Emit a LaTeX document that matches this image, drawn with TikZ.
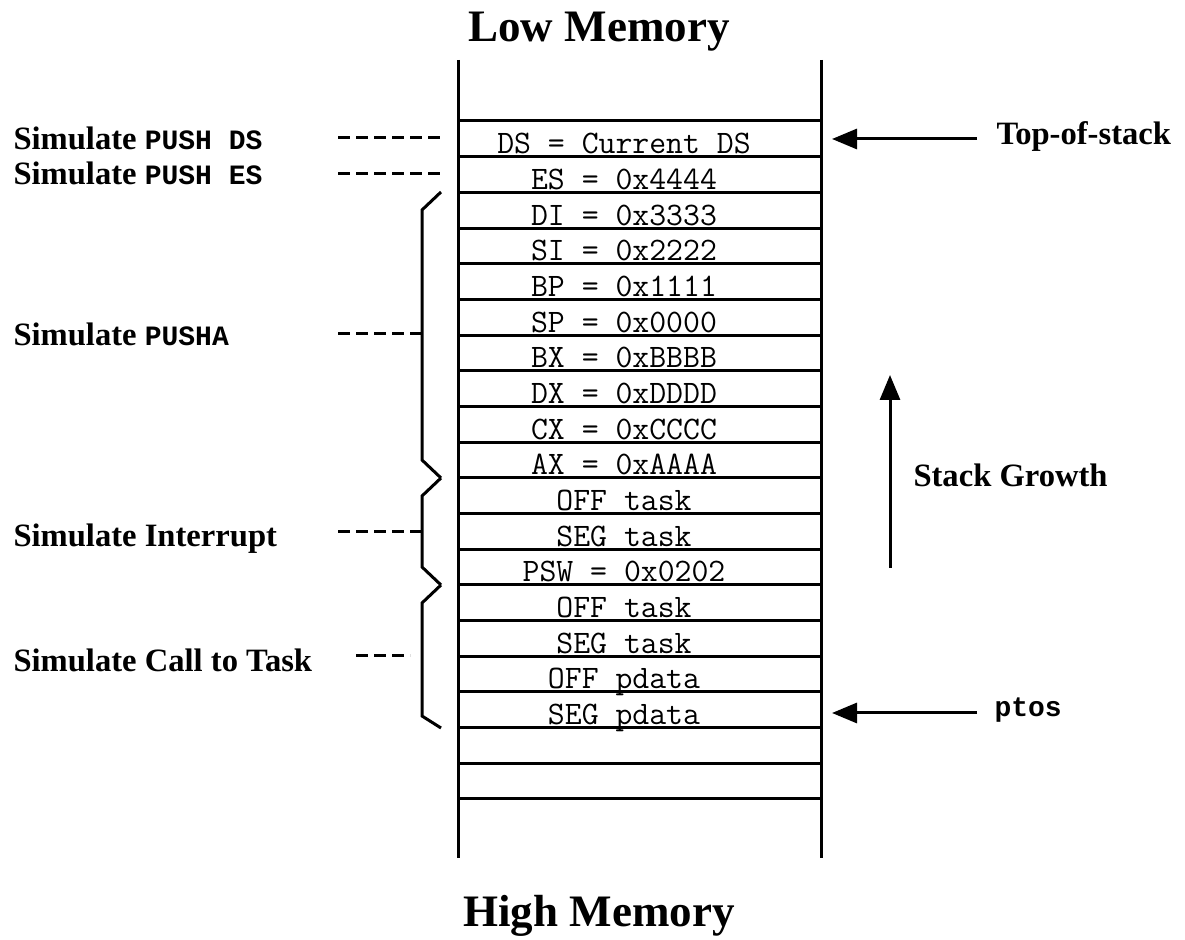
\documentclass[tikz,border=0pt]{standalone}
\usepackage{fontspec}
\setmainfont{Liberation Serif}
\newfontfamily\codebold{Liberation Mono}
\usetikzlibrary{arrows.meta}
\newcommand{\codefnt}{\fontsize{14}{16}\selectfont\codebold\bfseries}
\begin{document}
\begin{tikzpicture}[x=0.5pt,y=-0.5pt, line width=1.5pt,
  cell/.style={font=\fontsize{16.4}{18}\selectfont\ttfamily, anchor=base, inner sep=0pt},
  lbl/.style={font=\fontsize{16.3}{19}\selectfont\bfseries, anchor=base west, inner sep=0pt},
  title/.style={font=\fontsize{22.5}{26}\selectfont\bfseries, anchor=base, inner sep=0pt},
  dsh/.style={dash pattern=on 6pt off 3pt, line width=1.5pt},
  brc/.style={line width=1.5pt, line join=miter},
  arr/.style={-{Triangle[length=12.5pt,width=10pt]}, line width=1.5pt}]
\useasboundingbox (0,0) rectangle (1185,940);
% column
\coordinate (cl1) at (458,60); \coordinate (cl2) at (458,858);
\coordinate (cr1) at (821,60); \coordinate (cr2) at (821,858);
\draw (cl1) -- (cl2);
\draw (cr1) -- (cr2);
\foreach \i in {0,...,19}
  \draw (458,{121+35.68*\i}) -- (821,{121+35.68*\i});
% cell texts
\foreach \t [count=\i] in {DS = Current DS, ES = 0x4444, DI = 0x3333, SI = 0x2222, BP = 0x1111, SP = 0x0000, BX = 0xBBBB, DX = 0xDDDD, CX = 0xCCCC, AX = 0xAAAA, OFF task, SEG task, PSW = 0x0202, OFF task, SEG task, OFF pdata, SEG pdata}
  \node[cell] (cell\i) at (624,{121+35.68*\i-3}) {\t};
% titles
\node[title] (low) at (599,42) {Low Memory};
\node[title] (high) at (599,927) {High Memory};
% left labels
\node[lbl] (lds) at (12,150) {Simulate {\codefnt PUSH DS}};
\node[lbl] (les) at (12,185) {Simulate {\codefnt PUSH ES}};
\node[lbl] (lpa) at (12,346) {Simulate {\codefnt PUSHA}};
\node[lbl] (lint) at (12,547) {Simulate Interrupt};
\node[lbl] (lcall) at (12,672) {Simulate Call to Task};
% dashed leaders
\coordinate (d1a) at (338,138); \coordinate (d1b) at (442,138);
\coordinate (d2a) at (338,174); \coordinate (d2b) at (442,174);
\coordinate (d3a) at (338,334); \coordinate (d3b) at (422,334);
\coordinate (d4a) at (338,532); \coordinate (d4b) at (422,532);
\coordinate (d5a) at (356,656); \coordinate (d5b) at (410,656);
\draw[dsh] (d1a) -- (d1b);
\draw[dsh] (d2a) -- (d2b);
\draw[dsh] (d3a) -- (d3b);
\draw[dsh] (d4a) -- (d4b);
\draw[dsh] (d5a) -- (d5b);
% braces
\draw[brc] (441,192) -- (422,210) -- (422,460) -- (441,478);
\draw[brc] (441,478) -- (422,496) -- (422,567) -- (441,585);
\draw[brc] (441,585) -- (422,603) -- (422,716) -- (441,728);
% right side
\node[lbl] (tos) at (995,145) {Top-of-stack};
\coordinate (tostail) at (977,139); \coordinate (tostip) at (832,139);
\draw[arr] (tostail) -- (tostip);
\node[lbl, font=\codefnt] (ptos) at (993,717) {ptos};
\coordinate (ptail) at (977,713); \coordinate (ptip) at (832,713);
\draw[arr] (ptail) -- (ptip);
\node[lbl] (sg) at (912,487) {Stack Growth};
\coordinate (sgb) at (890,568); \coordinate (sgt) at (890,375);
\draw[arr] (sgb) -- (sgt);
\end{tikzpicture}
\end{document}
